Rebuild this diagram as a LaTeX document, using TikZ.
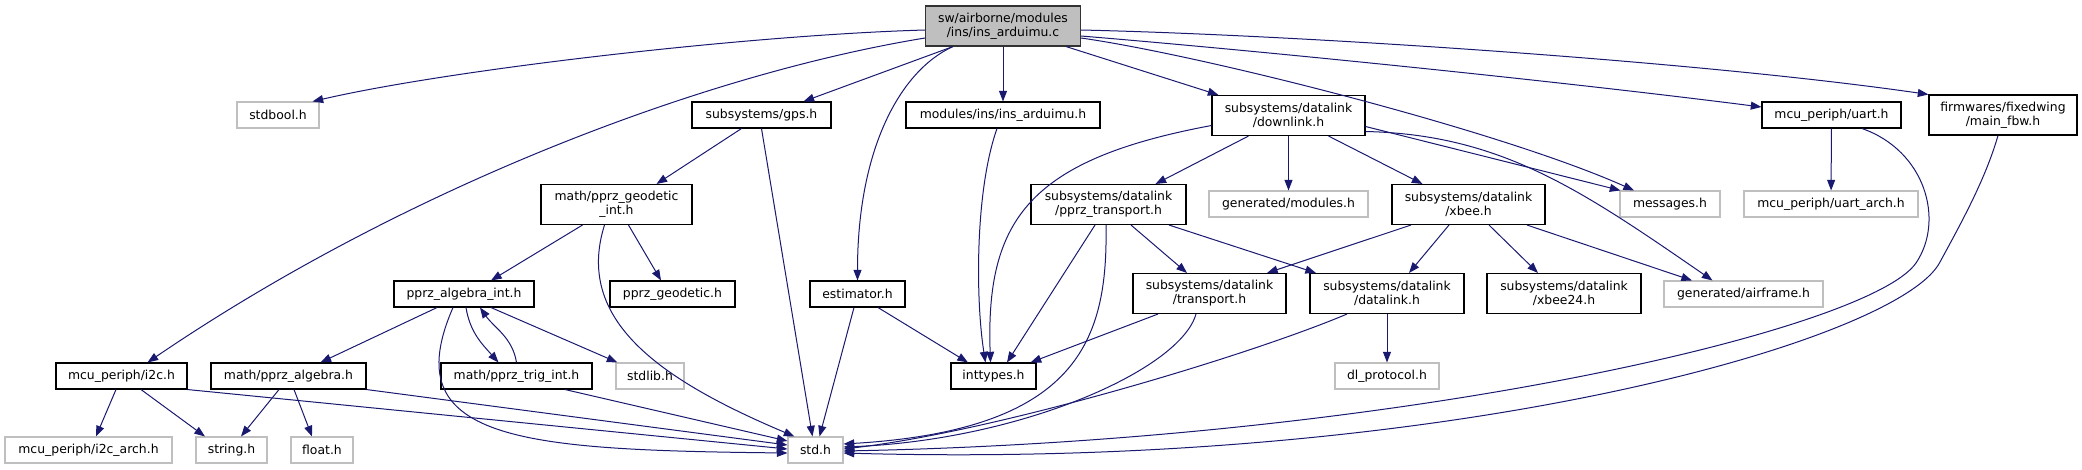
\documentclass[tikz,border=0pt]{standalone}
\usepackage{fontspec}
\setmainfont{DejaVu Sans}
\usetikzlibrary{calc,arrows.meta}
\definecolor{edgeblue}{RGB}{25,25,112}
\definecolor{extgray}{RGB}{191,191,191}
\tikzset{
  dep/.style   = {draw=edgeblue, line width=0.75pt,
                  -{Triangle[length=8pt,width=6pt]}},
  hbox/.style  = {draw=black, fill=white, line width=0.8pt, inner sep=2pt,
                  minimum height=19.5pt, align=center,
                  font=\fontsize{9.3}{10.5}\selectfont},
  hbox2/.style = {hbox, minimum height=30pt},
  xbox/.style  = {hbox, draw=extgray},
  mbox/.style  = {hbox2, fill=extgray, draw=black!80},
  wd/.style    = {minimum width=#1*0.75pt},
}

\begin{document}
\begin{tikzpicture}[x=0.75pt,y=-0.75pt]
  \useasboundingbox (0,0) rectangle (2082,469);
  \node[mbox,wd=155]  (m)        at (1003,26)     {sw/airborne/modules\\/ins/ins\_arduimu.c};
  \node[xbox,wd=82]   (stdbool)  at (278,115)     {stdbool.h};
  \node[hbox,wd=139]  (gps)      at (761.5,115)   {subsystems/gps.h};
  \node[hbox,wd=194]  (insh)     at (1003,115)    {modules/ins/ins\_arduimu.h};
  \node[hbox2,wd=153] (downlink) at (1288.5,115.5){subsystems/datalink\\/downlink.h};
  \node[hbox,wd=139]  (uart)     at (1831.5,115)  {mcu\_periph/uart.h};
  \node[hbox2,wd=148] (fbw)      at (2003,115)    {firmwares/fixedwing\\/main\_fbw.h};
  \node[hbox2,wd=151] (geod)     at (616.5,204.5) {math/pprz\_geodetic\\\_int.h};
  \node[hbox2,wd=155] (ptrans)   at (1108.5,204.5){subsystems/datalink\\/pprz\_transport.h};
  \node[xbox,wd=159]  (genmod)   at (1288.5,204)  {generated/modules.h};
  \node[hbox2,wd=153] (xbee)     at (1468.5,204.5){subsystems/datalink\\/xbee.h};
  \node[xbox,wd=100]  (msgs)     at (1670,204)    {messages.h};
  \node[xbox,wd=174]  (uartarch) at (1831,204)    {mcu\_periph/uart\_arch.h};
  \node[hbox,wd=140]  (algint)   at (464,294)     {pprz\_algebra\_int.h};
  \node[hbox,wd=125]  (geodh)    at (672.5,294)   {pprz\_geodetic.h};
  \node[hbox,wd=95]   (estim)    at (857.5,294)   {estimator.h};
  \node[hbox2,wd=153] (trans)    at (1209.5,293.5){subsystems/datalink\\/transport.h};
  \node[hbox2,wd=154] (dlink)    at (1387,293.5)  {subsystems/datalink\\/datalink.h};
  \node[hbox2,wd=154] (xbee24)   at (1564,293.5)  {subsystems/datalink\\/xbee24.h};
  \node[xbox,wd=159]  (airframe) at (1743.5,294)  {generated/airframe.h};
  \node[hbox,wd=131]  (i2c)      at (121.5,376)   {mcu\_periph/i2c.h};
  \node[hbox,wd=155]  (alg)      at (288.5,376)   {math/pprz\_algebra.h};
  \node[hbox,wd=151]  (trig)     at (516.5,376)   {math/pprz\_trig\_int.h};
  \node[xbox,wd=68]   (stdlib)   at (650,376)     {stdlib.h};
  \node[hbox,wd=85]   (inttypes) at (993.5,376)   {inttypes.h};
  \node[xbox,wd=104]  (dlproto)  at (1387,376)    {dl\_protocol.h};
  \node[xbox,wd=167]  (i2carch)  at (88.5,450)    {mcu\_periph/i2c\_arch.h};
  \node[xbox,wd=71]   (string)   at (231.5,450)   {string.h};
  \node[xbox,wd=62]   (float)    at (322,450)     {float.h};
  \node[xbox,wd=55]   (std)      at (815.5,450)   {std.h};
  \coordinate (uartbend) at (1916,263);
  \coordinate (fbwbend)  at (1940,262);

  \draw[dep] ($(m.west)+(0,4)$) .. controls +(-176,5) and +(138,-32) .. ($(stdbool.north east)+(-7,0)$);
  \draw[dep] ($(m.south)+(-50,0)$) -- ($(gps.north)+(42,0)$);
  \draw[dep] (m) -- (insh);
  \draw[dep] ($(m.south)+(63,0)$) -- ($(downlink.north)+(-70,0)$);
  \draw[dep] ($(m.east)+(0,12)$) .. controls +(120,17) and +(-134,-60) .. ($(msgs.north)+(-36,0)$);
  \draw[dep] ($(m.east)+(0,10)$) .. controls +(170,14) and +(-212,-27) .. ($(uart.west)+(0,-8)$);
  \draw[dep] ($(m.east)+(0,4)$) .. controls +(220,5) and +(-228,-33) .. (fbw.north west);
  \draw[dep] ($(m.west)+(0,12)$) .. controls +(-226,37) and +(253,-172) .. ($(i2c.north)+(26,0)$);
  \draw[dep] ($(m.south)+(-50,0)$) .. controls +(-53,24) and +(0,-131) .. (estim.north);

  \draw[dep] ($(downlink.west)+(0,10)$) .. controls +(-182,34) and +(-5,-143) .. ($(inttypes.north)+(-3,0)$);
  \draw[dep] ($(insh.south)+(-6,0)$) .. controls +(-22,62) and +(-10,-63) .. ($(inttypes.north)+(-8,0)$);
  \draw[dep] ($(downlink.south)+(-40,0)$) -- ($(ptrans.north)+(47,0)$);
  \draw[dep] (downlink) -- (genmod);
  \draw[dep] ($(downlink.south)+(40,0)$) -- ($(xbee.north)+(-46,0)$);
  \draw[dep] ($(downlink.east)+(0,11)$) -- ($(msgs.north west)+(1,0)$);
  \draw[dep] ($(downlink.east)+(0,16)$) .. controls +(135,3) and +(-132,-91) .. ($(airframe.north)+(-31,0)$);

  \draw[dep] ($(gps.south)+(-20,0)$) -- ($(geod.north)+(40,0)$);
  \draw[dep] (gps.south) -- ($(std.north)+(-3,0)$);
  \draw[dep] ($(geod.south)+(-34,0)$) -- ($(algint.north)+(27,0)$);
  \draw[dep] ($(geod.south)+(12,0)$) -- ($(geodh.north)+(-11.5,0)$);
  \draw[dep] ($(geod.south)+(-12,0)$) .. controls +(-30,95) and +(-135,-57) .. ($(std.north west)+(7,0)$);

  \draw[dep] ($(algint.south)+(-27,0)$) -- ($(alg.north)+(32,0)$);
  \draw[dep] ($(algint.south)+(2,0)$) .. controls +(4,25) and +(-16,-18) .. ($(trig.north)+(-18,0)$);
  \draw[dep] (trig.north) .. controls +(-4,-25) and +(14,20) .. ($(algint.south)+(16,0)$);
  \draw[dep] ($(algint.south)+(27,0)$) -- ($(stdlib.north west)+(2,0)$);
  \draw[dep] ($(algint.south)+(-11,0)$) .. controls +(-58,133) and +(-268,-3) .. ($(std.west)+(0,3)$);
  \draw[dep] ($(trig.south)+(48.5,0)$) -- ($(std.west)+(0,-9)$);
  \draw[dep] (alg.south east) -- ($(std.west)+(0,-5)$);
  \draw[dep] ($(alg.south)+(-9.5,0)$) -- ($(string.north)+(9.5,0)$);
  \draw[dep] ($(alg.south)+(5.5,0)$) -- ($(float.north)+(-10,0)$);
  \draw[dep] ($(i2c.south)+(-5.5,0)$) -- ($(i2carch.north)+(7.5,0)$);
  \draw[dep] ($(i2c.south)+(19.5,0)$) -- ($(string.north)+(-26.5,0)$);
  \draw[dep] (i2c.south east) -- ($(std.west)+(0,-1)$);

  \draw[dep] ($(estim.south)+(-3.5,0)$) -- ($(std.north)+(4,0)$);
  \draw[dep] ($(estim.south)+(20.5,0)$) -- ($(inttypes.north)+(-25.5,0)$);
  \draw[dep] ($(ptrans.south)+(-13.5,0)$) -- ($(inttypes.north)+(13.5,0)$);
  \draw[dep] ($(ptrans.south)+(-2.5,0)$) .. controls +(2,115) and +(235,-14) .. ($(std.east)+(0,-6)$);
  \draw[dep] ($(ptrans.south)+(22.5,0)$) -- ($(trans.north)+(-22.5,0)$);
  \draw[dep] ($(ptrans.south)+(60.5,0)$) -- ($(dlink.north)+(-71,0)$);
  \draw[dep] ($(xbee.south)+(-57.5,0)$) -- ($(trans.north)+(57.5,0)$);
  \draw[dep] ($(xbee.south)+(-19.5,0)$) -- ($(dlink.north)+(22,0)$);
  \draw[dep] ($(xbee.south)+(20.5,0)$) -- ($(xbee24.north)+(-26,0)$);
  \draw[dep] ($(xbee.south)+(58.5,0)$) -- ($(airframe.north)+(-51.5,0)$);
  \draw[dep] ($(trans.south)+(-51.5,0)$) -- ($(inttypes.north east)+(-6,0)$);
  \draw[dep] ($(trans.south)+(-13.5,0)$) .. controls +(-16,56) and +(177,-7) .. ($(std.east)+(0,-3)$);
  \draw[dep] ($(dlink.south)+(-40,0)$) .. controls +(-97,41) and +(155,-18) .. ($(std.east)+(0,-1)$);
  \draw[dep] (dlink) -- (dlproto);
  \draw[dep] (uart) -- (uartarch);
  \draw[dep] ($(uart.south)+(30.5,0)$) .. controls +(63,22) and +(29,-43) .. (uartbend)
    .. controls +(-46,67) and +(557,-11) .. ($(std.east)+(0,1)$);
  \draw[dep] ($(fbw.south)+(-5,0)$) .. controls +(-13,45) and +(20,-37) .. (fbwbend)
    .. controls +(-40,78) and +(607,17) .. ($(std.east)+(0,3)$);
\end{tikzpicture}
\end{document}
